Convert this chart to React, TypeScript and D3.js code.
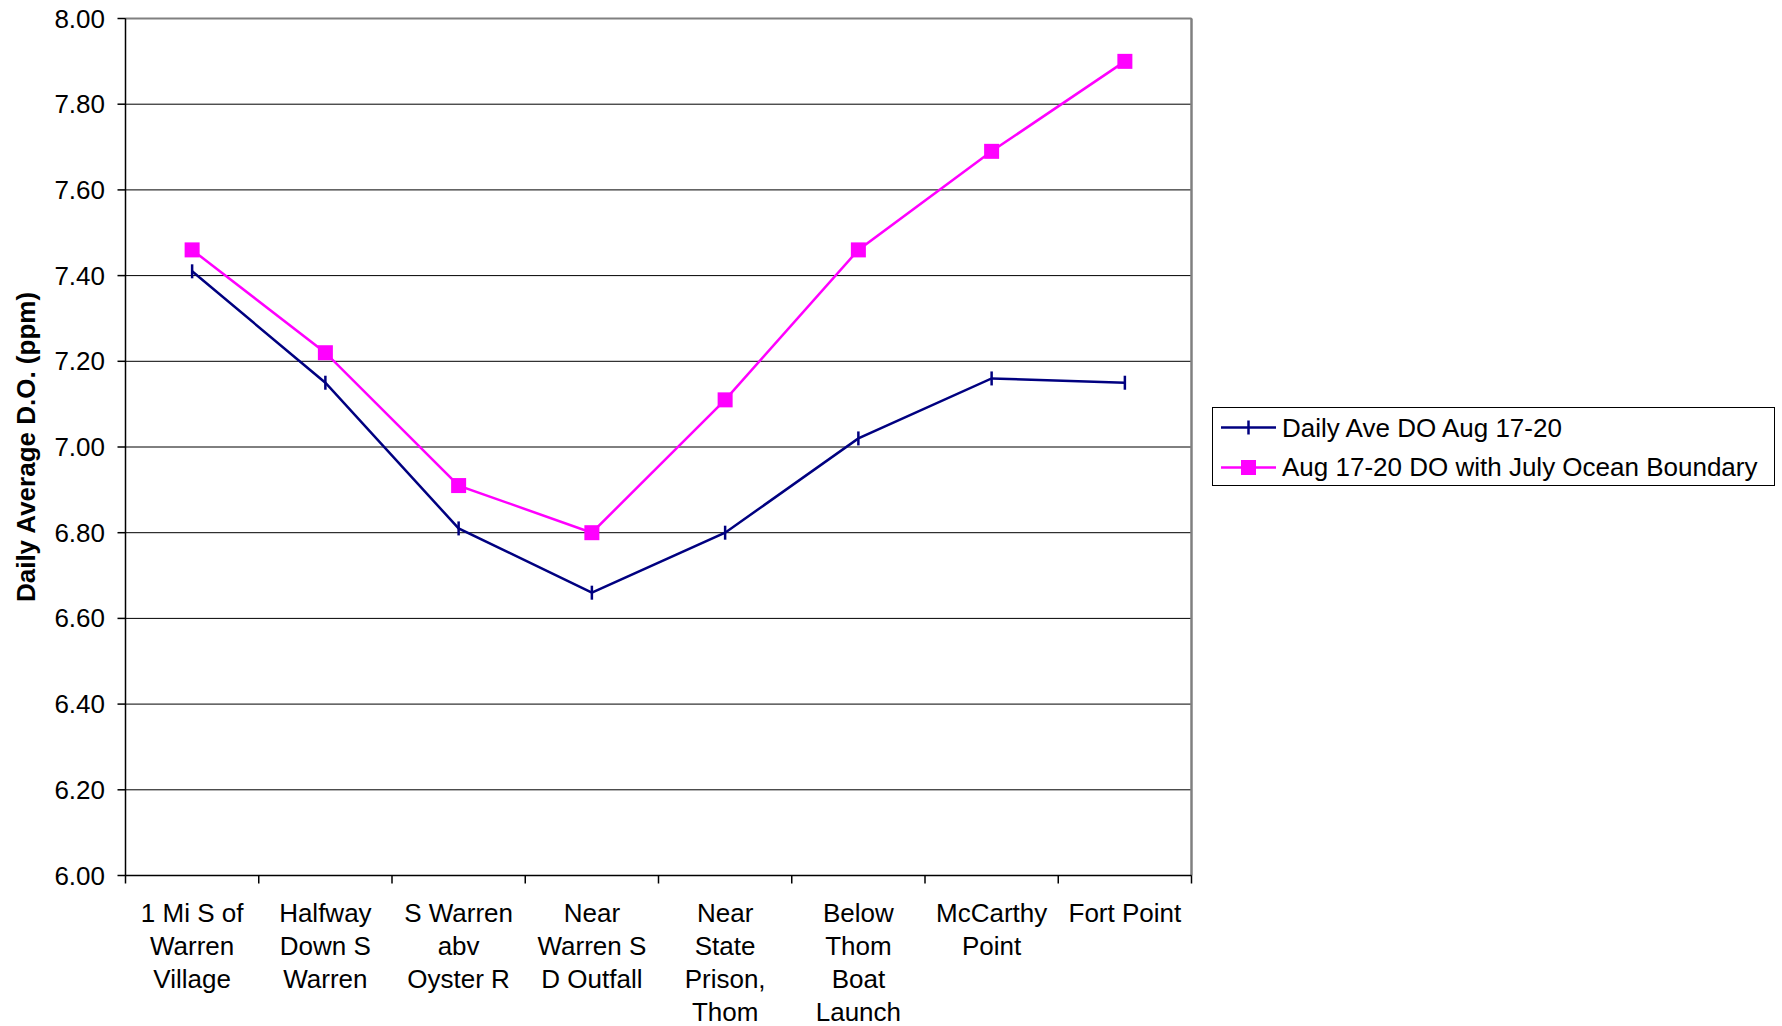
import React from "react";
import * as d3 from "d3";

const categories: string[][] = [
  ["1 Mi S of", "Warren", "Village"],
  ["Halfway", "Down S", "Warren"],
  ["S Warren", "abv", "Oyster R"],
  ["Near", "Warren S", "D Outfall"],
  ["Near", "State", "Prison,", "Thom"],
  ["Below", "Thom", "Boat", "Launch"],
  ["McCarthy", "Point"],
  ["Fort Point"],
];

const dailyAveDO: number[] = [7.41, 7.15, 6.81, 6.66, 6.8, 7.02, 7.16, 7.15];
const julyBoundaryDO: number[] = [7.46, 7.22, 6.91, 6.8, 7.11, 7.46, 7.69, 7.9];

const yTicks: number[] = [6.0, 6.2, 6.4, 6.6, 6.8, 7.0, 7.2, 7.4, 7.6, 7.8, 8.0];

const seriesNames = ["Daily Ave DO Aug 17-20", "Aug 17-20 DO with July Ocean Boundary"];
const yTitle = "Daily Average D.O. (ppm)";

const W = 1782;
const H = 1026;
const plot = { left: 125.5, right: 1191.5, top: 18.5, bottom: 875.5 };
const FONT = "'Liberation Sans', Arial, sans-serif";
const FS = 26;
const NAVY = "#000080";
const MAGENTA = "#FF00FF";

export default function App() {
  const idx = categories.map((_, i) => i);
  const x = d3
    .scaleBand<number>()
    .domain(idx)
    .range([plot.left, plot.right])
    .paddingInner(0)
    .paddingOuter(0);
  const y = d3.scaleLinear().domain([6, 8]).range([plot.bottom, plot.top]);
  const cx = (i: number) => (x(i) as number) + x.bandwidth() / 2;

  const line = d3
    .line<number>()
    .x((_, i) => cx(i))
    .y((d) => y(d));

  const boundaries = d3.range(categories.length + 1).map((i) => plot.left + i * x.bandwidth());

  const legend = { x: 1212.5, y: 407.5, w: 562, h: 78 };
  const symX1 = 1221;
  const symX2 = 1276;
  const symCx = 1248.5;
  const row1 = 427.5;
  const row2 = 467.5;
  const textX = 1282;

  return (
    <svg
      width={W}
      height={H}
      style={{ position: "absolute", left: 0, top: 0, background: "#fff" }}
      fontFamily={FONT}
    >
      <rect x={0} y={0} width={W} height={H} fill="#fff" />

      {/* horizontal gridlines */}
      {yTicks.map((t) => (
        <line
          key={"g" + t}
          x1={plot.left}
          x2={plot.right}
          y1={y(t)}
          y2={y(t)}
          stroke="#000"
          strokeWidth={1}
        />
      ))}

      {/* plot area border (top and right) */}
      <line x1={plot.left} x2={plot.right} y1={plot.top} y2={plot.top} stroke="#808080" strokeWidth={2} />
      <line x1={plot.right} x2={plot.right} y1={plot.top} y2={plot.bottom} stroke="#808080" strokeWidth={2.5} />

      {/* y axis */}
      <line x1={plot.left} x2={plot.left} y1={plot.top} y2={plot.bottom} stroke="#000" strokeWidth={1.5} />
      {yTicks.map((t) => (
        <g key={"yt" + t}>
          <line x1={plot.left - 8} x2={plot.left} y1={y(t)} y2={y(t)} stroke="#000" strokeWidth={1.5} />
          <text
            x={105}
            y={y(t)}
            textAnchor="end"
            dominantBaseline="central"
            fontSize={FS}
            fill="#000"
          >
            {t.toFixed(2)}
          </text>
        </g>
      ))}

      {/* x axis */}
      <line x1={plot.left} x2={plot.right} y1={plot.bottom} y2={plot.bottom} stroke="#000" strokeWidth={1.5} />
      {boundaries.map((bx, i) => (
        <line key={"xt" + i} x1={bx} x2={bx} y1={plot.bottom} y2={plot.bottom + 8} stroke="#000" strokeWidth={1.5} />
      ))}
      {categories.map((lines, i) => (
        <text key={"xl" + i} x={cx(i)} y={922} textAnchor="middle" fontSize={FS} fill="#000">
          {lines.map((s, j) => (
            <tspan key={j} x={cx(i)} y={922 + j * 33}>
              {s}
            </tspan>
          ))}
        </text>
      ))}

      {/* y axis title */}
      <text
        transform={`translate(${35},${(plot.top + plot.bottom) / 2}) rotate(-90)`}
        textAnchor="middle"
        fontSize={FS}
        fontWeight="bold"
        fill="#000"
      >
        {yTitle}
      </text>

      {/* series lines */}
      <path d={line(dailyAveDO) ?? ""} fill="none" stroke={NAVY} strokeWidth={2.5} />
      <path d={line(julyBoundaryDO) ?? ""} fill="none" stroke={MAGENTA} strokeWidth={2.5} />

      {/* markers */}
      {dailyAveDO.map((v, i) => (
        <line key={"m1" + i} x1={cx(i)} x2={cx(i)} y1={y(v) - 7} y2={y(v) + 7} stroke={NAVY} strokeWidth={2.5} />
      ))}
      {julyBoundaryDO.map((v, i) => (
        <rect key={"m2" + i} x={cx(i) - 7.5} y={y(v) - 7.5} width={15} height={15} fill={MAGENTA} />
      ))}

      {/* legend */}
      <rect x={legend.x} y={legend.y} width={legend.w} height={legend.h} fill="#fff" stroke="#000" strokeWidth={1} />
      <line x1={symX1} x2={symX2} y1={row1} y2={row1} stroke={NAVY} strokeWidth={2.5} />
      <line x1={symCx} x2={symCx} y1={row1 - 7} y2={row1 + 7} stroke={NAVY} strokeWidth={2.5} />
      <text x={textX} y={436.5} fontSize={FS} fill="#000">
        {seriesNames[0]}
      </text>
      <line x1={symX1} x2={symX2} y1={row2} y2={row2} stroke={MAGENTA} strokeWidth={2.5} />
      <rect x={symCx - 7.5} y={row2 - 7.5} width={15} height={15} fill={MAGENTA} />
      <text x={textX} y={476} fontSize={FS} fill="#000">
        {seriesNames[1]}
      </text>
    </svg>
  );
}
